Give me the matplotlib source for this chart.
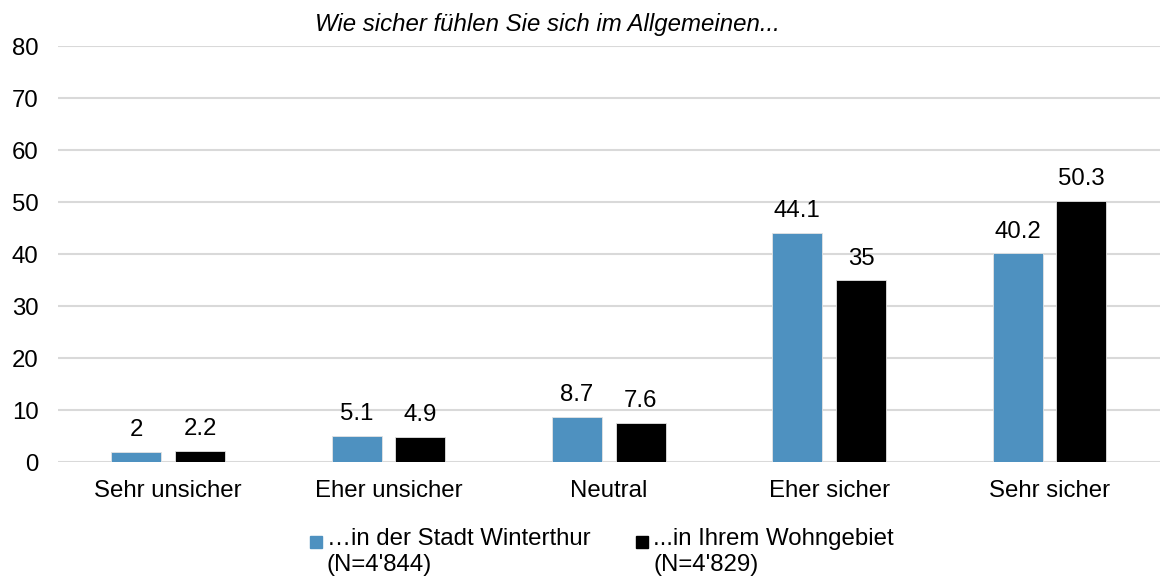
import matplotlib.pyplot as plt
import matplotlib.patches as mpatches
import numpy as np

plt.rcParams['font.family'] = ['Liberation Sans', 'DejaVu Sans']

categories = ['Sehr unsicher', 'Eher unsicher', 'Neutral', 'Eher sicher', 'Sehr sicher']
stadt = [2, 5.1, 8.7, 44.1, 40.2]
wohngebiet = [2.2, 4.9, 7.6, 35, 50.3]
labels = ['\u2026in der Stadt Winterthur\n(N=4\'844)', '...in Ihrem Wohngebiet\n(N=4\'829)']
colors = ['#4e91c0', '#000000']
title = 'Wie sicher f\u00fchlen Sie sich im Allgemeinen...'

fs = 17.3
fig = plt.figure(figsize=(11.67, 5.8), dpi=100)
ax = fig.add_axes([0.0497, 0.2034, 0.944, 0.717])

x = np.arange(len(categories))
w = 0.227
off = 0.145
b1 = ax.bar(x - off, stadt, w, color=colors[0], edgecolor='#e3e3e3', linewidth=0.6, zorder=3)
b2 = ax.bar(x + off, wohngebiet, w, color=colors[1], edgecolor='#e3e3e3', linewidth=0.6, zorder=3)
for bars, vals in [(b1, stadt), (b2, wohngebiet)]:
    for b, v in zip(bars, vals):
        ax.text(b.get_x() + b.get_width() / 2, v + 2.0, f'{v:g}', ha='center', va='bottom', fontsize=fs)

ax.set_xlim(-0.5, len(categories) - 0.5)
ax.set_ylim(0, 80)
ax.set_yticks(np.arange(0, 81, 10))
ax.set_xticks(x)
ax.set_xticklabels(categories)
ax.tick_params(axis='both', length=0, labelsize=fs)
ax.tick_params(axis='x', pad=13)
ax.tick_params(axis='y', pad=14)
ax.grid(axis='y', color='#d9d9d9', linewidth=1.5, zorder=0)
for s in ax.spines.values():
    s.set_visible(False)

fig.text(0.469, 0.957, title, ha='center', va='center', fontsize=fs, style='italic')

# legend drawn by hand so the marker sits on the first line
for i, (lab, c) in enumerate(zip(labels, colors)):
    x0 = [310, 636][i]
    fig.patches.append(mpatches.Rectangle((x0 / 1167, 1 - 548 / 580), 12 / 1167, 12 / 580,
                                          transform=fig.transFigure, color=c))
    fig.text((x0 + 17) / 1167, 1 - 528 / 580, lab, ha='left', va='top', fontsize=fs, linespacing=1.25)

fig.savefig('out.png', dpi=100)
